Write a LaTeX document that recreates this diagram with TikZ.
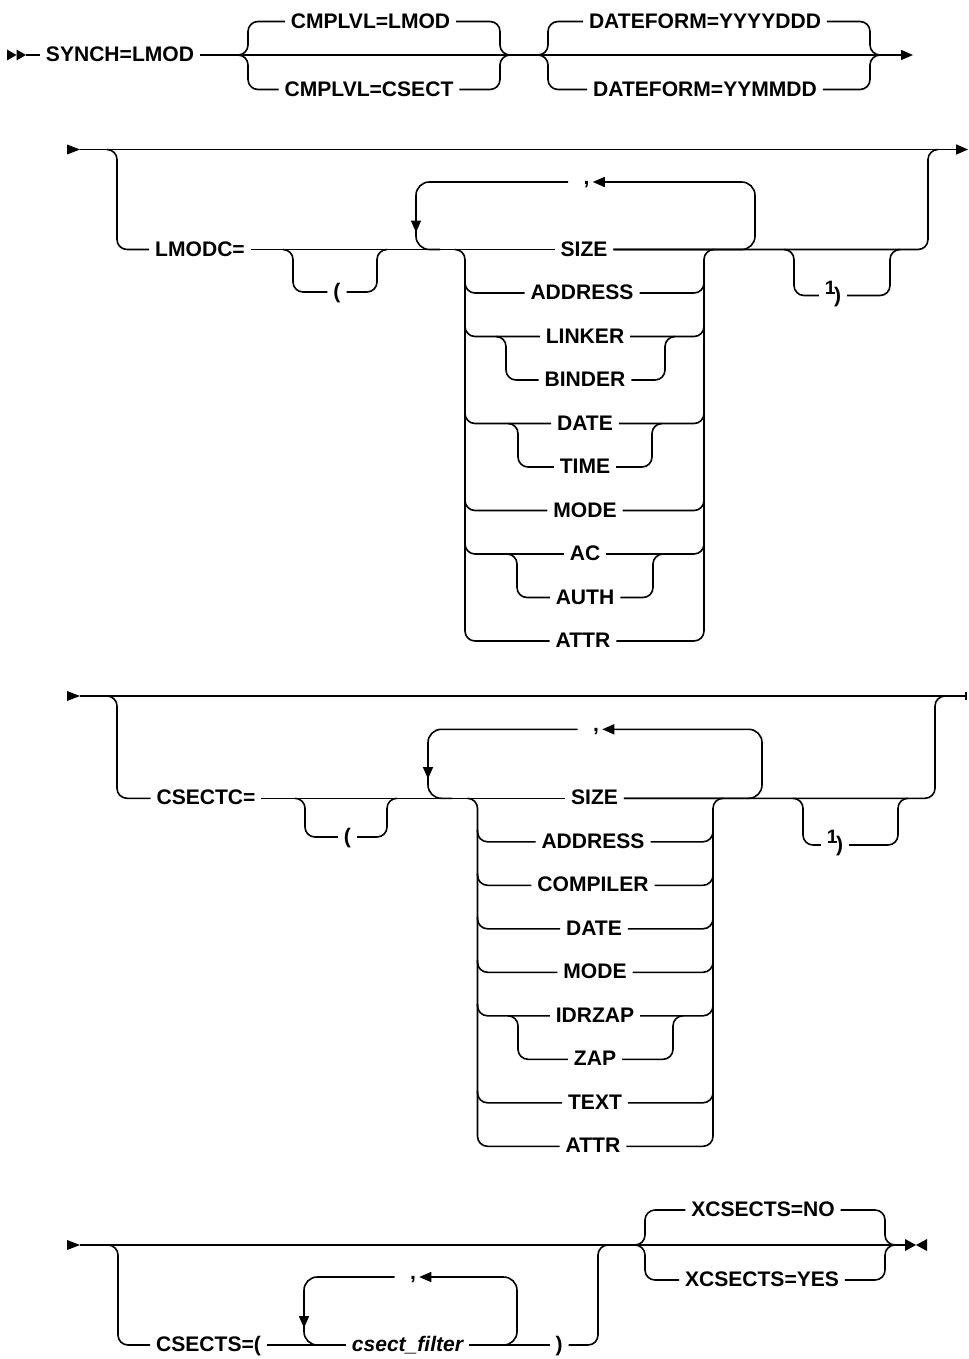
\documentclass[tikz,border=0pt]{standalone}
\usepackage{fontspec}
\setmainfont{Liberation Sans}
\usetikzlibrary{arrows.meta}
\newcommand{\fnref}{{\fontsize{14.5}{15}\selectfont\raisebox{6pt}{1}}\kern-1.2pt)}
\tikzset{
  lbl/.style={font=\fontsize{15.8}{19}\selectfont\bfseries, text height=11.3pt, text depth=1.5pt, inner xsep=4.5pt, inner ysep=0pt, outer sep=0pt},
  varlbl/.style={lbl, font=\fontsize{15.8}{19}\selectfont\bfseries\itshape},
  commalbl/.style={lbl, text height=3.2pt, text depth=0pt, inner xsep=2.5pt},
  rc/.style={rounded corners=7.5pt},
  rcl/.style={rounded corners=10pt},
  tip/.style={-{Triangle[length=9pt,width=7.5pt]}},
}
\begin{document}
\begin{tikzpicture}[x=0.75pt, y=-0.75pt, line width=1.2pt]
\fill[white] (0,0) rectangle (969,1359);
\useasboundingbox (0,0) rectangle (969,1359);

% ---------------- row 1
\fill (7,49.5) -- (16.5,55) -- (7,60.5) -- cycle;
\fill (16.5,49.5) -- (26,55) -- (16.5,60.5) -- cycle;
\coordinate (r1s) at (26,55);
\coordinate (r1e) at (913,55);
\node[lbl] (synch) at (120,55) {SYNCH=LMOD};
\node[lbl] (cl) at (370.5,21.5) {CMPLVL=LMOD};
\node[lbl] (cc) at (369,89.5) {CMPLVL=CSECT};
\node[lbl] (dy) at (705,21.5) {DATEFORM=YYYYDDD};
\node[lbl] (dm) at (705,89.5) {DATEFORM=YYMMDD};
\draw (r1s) -- (synch.west);
\draw[tip] (synch.east) -- (r1e);
\draw[rc] (238,55) -| (248,21.5) -- (cl.west);
\draw[rc] (238,55) -| (248,89.5) -- (cc.west);
\draw[rc] (cl.east) -| (500,55) -- (510,55);
\draw[rc] (cc.east) -| (500,55) -- (510,55);
\draw[rc] (538,55) -| (548,21.5) -- (dy.west);
\draw[rc] (538,55) -| (548,89.5) -- (dm.west);
\draw[rc] (dy.east) -| (870,55) -- (880,55);
\draw[rc] (dm.east) -| (870,55) -- (880,55);

% ---------------- row 2
\fill (67,144.5) -- (80,149.5) -- (67,154.5) -- cycle;
\coordinate (r2s) at (80,149.5);
\coordinate (r2e) at (968,149.5);
\draw[tip] (r2s) -- (r2e);
\node[lbl] (lmodc) at (200,249.5) {LMODC=};
\draw[rc] (107,149.5) -| (117,249.5) -- (lmodc.west);
\node[lbl] (size2) at (584,249.5) {SIZE};
\draw (lmodc.east) -- (size2.west);
\draw[rc] (size2.east) -| (928,149.5) -- (938,149.5);
\node[lbl] (lp2) at (337,292) {(};
\draw[rc] (283,249.5) -| (293,292) -- (lp2.west);
\draw[rc] (lp2.east) -| (377,249.5) -- (387,249.5);
\node[commalbl] (cm2) at (586.5,182) {,};
\draw[rcl] ([xshift=-9pt]cm2.west) -| (416,249.5) -- (440,249.5);
\draw[tip] (416,212) -- (416,232.5);
\draw[rcl,tip] (size2.east) -| (755,182) -- (cm2.east);
\node[lbl] (address2) at (582,293) {ADDRESS};
\node[lbl] (linker) at (585,336.5) {LINKER};
\node[lbl] (binder) at (585,380) {BINDER};
\node[lbl] (date2) at (585,423.5) {DATE};
\node[lbl] (time) at (585,467) {TIME};
\node[lbl] (mode2) at (585,510.5) {MODE};
\node[lbl] (ac) at (585,554) {AC};
\node[lbl] (auth) at (585,597.5) {AUTH};
\node[lbl] (attr2) at (583,641) {ATTR};
\draw[rc] (455,249.5) -| (465,641) -- (attr2.west);
\draw[rc] (attr2.east) -| (704,249.5) -- (714,249.5);
\foreach \n/\y in {address2/293, linker/336.5, date2/423.5, mode2/510.5, ac/554} {
  \draw[rc] (465,\y-12) |- (\n.west);
  \draw[rc] (\n.east) -| (704,\y-12);
}
\draw[rc] (496,336.5) -| (506,380) -- (binder.west);
\draw[rc] (binder.east) -| (665,336.5) -- (675,336.5);
\draw[rc] (508,423.5) -| (518,467) -- (time.west);
\draw[rc] (time.east) -| (652,423.5) -- (662,423.5);
\draw[rc] (507,554) -| (517,597.5) -- (auth.west);
\draw[rc] (auth.east) -| (653,554) -- (663,554);
\node[lbl] (n2) at (833,295.5) {\fnref};
\draw[rc] (784,249.5) -| (794,295.5) -- (n2.west);
\draw[rc] (n2.east) -| (890,249.5) -- (900,249.5);

% ---------------- row 3
\fill (67,691) -- (80,696) -- (67,701) -- cycle;
\coordinate (r3s) at (80,696);
\coordinate (r3e) at (967,696);
\draw[-{Bar[width=6.5pt]}] (r3s) -- (r3e);
\node[lbl] (csectc) at (206,798.3) {CSECTC=};
\draw[rc] (107,696) -| (117,798.3) -- (csectc.west);
\node[lbl] (size3) at (594.5,798.3) {SIZE};
\draw (csectc.east) -- (size3.west);
\draw[rc] (size3.east) -| (935,696) -- (945,696);
\node[lbl] (lp3) at (347.5,837) {(};
\draw[rc] (295,798.3) -| (305,837) -- (lp3.west);
\draw[rc] (lp3.east) -| (387,798.3) -- (397,798.3);
\node[commalbl] (cm3) at (596,729.3) {,};
\draw[rcl] ([xshift=-9pt]cm3.west) -| (428,798.3) -- (452,798.3);
\draw[tip] (428,760) -- (428,779);
\draw[rcl,tip] (size3.east) -| (762,729.3) -- (cm3.east);
\node[lbl] (address3) at (593,841.8) {ADDRESS};
\node[lbl] (compiler) at (593,885.3) {COMPILER};
\node[lbl] (date3) at (594,928.8) {DATE};
\node[lbl] (mode3) at (595,972.3) {MODE};
\node[lbl] (idrzap) at (595,1015.8) {IDRZAP};
\node[lbl] (zap) at (595,1059.3) {ZAP};
\node[lbl] (text3) at (595,1102.8) {TEXT};
\node[lbl] (attr3) at (593,1146.3) {ATTR};
\draw[rc] (467.5,798.3) -| (477.5,1146.3) -- (attr3.west);
\draw[rc] (attr3.east) -| (713,798.3) -- (723,798.3);
\foreach \n/\y in {address3/841.8, compiler/885.3, date3/928.8, mode3/972.3, idrzap/1015.8, text3/1102.8} {
  \draw[rc] (477.5,\y-12) |- (\n.west);
  \draw[rc] (\n.east) -| (713,\y-12);
}
\draw[rc] (508,1015.8) -| (518,1059.3) -- (zap.west);
\draw[rc] (zap.east) -| (673,1015.8) -- (683,1015.8);
\node[lbl] (n3) at (835,845) {\fnref};
\draw[rc] (793,798.3) -| (803,845) -- (n3.west);
\draw[rc] (n3.east) -| (898,798.3) -- (908,798.3);

% ---------------- row 4
\fill (67,1240) -- (80,1245) -- (67,1250) -- cycle;
\coordinate (r4s) at (80,1245);
\coordinate (r4e) at (905,1245);
\draw (r4s) -- (r4e);
\fill (905,1239) -- (916,1245) -- (905,1251) -- cycle;
\fill (927,1239) -- (916,1245) -- (927,1251) -- cycle;
\node[lbl] (csects) at (208.5,1345) {CSECTS=(};
\draw[rc] (108,1245) -| (118,1345) -- (csects.west);
\node[varlbl] (cf) at (407.5,1345) {csect\_filter};
\node[lbl] (rp4) at (559,1345) {)};
\draw (csects.east) -- (cf.west);
\draw (cf.east) -- (rp4.west);
\draw[rc] (rp4.east) -| (598,1245) -- (608,1245);
\node[commalbl] (cm4) at (413,1277) {,};
\draw[rcl] ([xshift=-9pt]cm4.west) -| (304,1345) -- (328,1345);
\draw[tip] (304,1310) -- (304,1328);
\draw[rcl,tip] (cf.east) -| (517,1277) -- (cm4.east);
\node[lbl] (xno) at (763,1210) {XCSECTS=NO};
\node[lbl] (xyes) at (762,1280) {XCSECTS=YES};
\draw[rc] (635,1245) -| (645,1210) -- (xno.west);
\draw[rc] (635,1245) -| (645,1280) -- (xyes.west);
\draw[rc] (xno.east) -| (885,1245) -- (895,1245);
\draw[rc] (xyes.east) -| (885,1245) -- (895,1245);
\end{tikzpicture}
\end{document}
